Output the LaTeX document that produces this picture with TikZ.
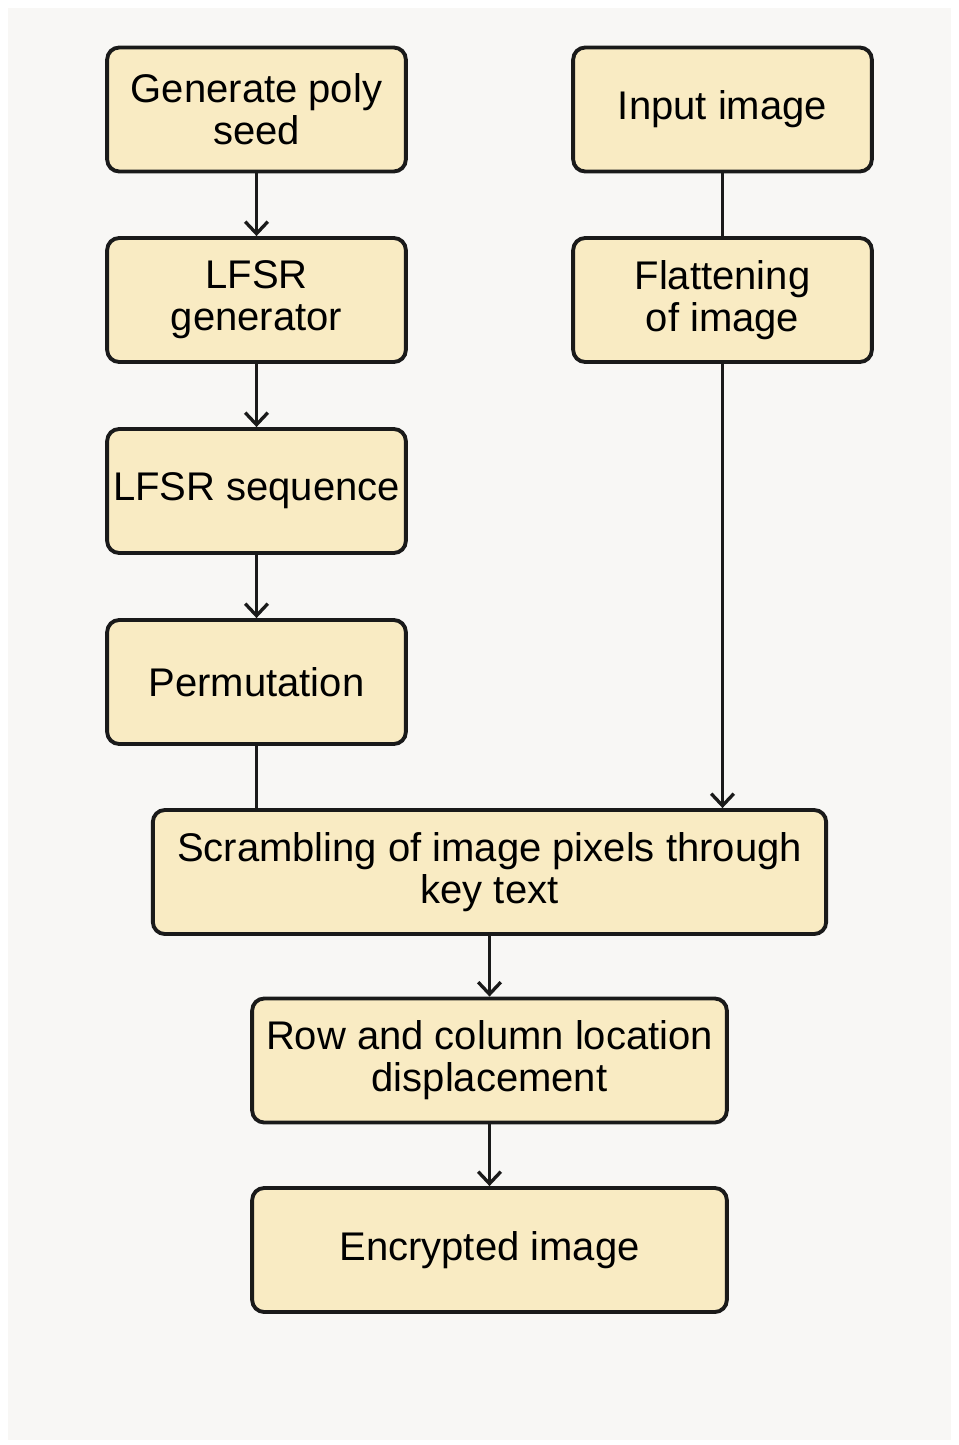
\documentclass[tikz,border=0pt]{standalone}
\usepackage{fontspec}
\setmainfont{Liberation Sans}
\usetikzlibrary{arrows.meta,positioning,calc}

\definecolor{boxfill}{RGB}{249,235,195}
\definecolor{paper}{RGB}{248,247,245}
\definecolor{ink}{RGB}{26,26,26}

\tikzset{
  stepbox/.style={draw=ink, fill=boxfill, line width=2.9pt, rounded corners=9pt,
    minimum width=224pt, minimum height=93pt, align=center, inner sep=0pt,
    font=\fontsize{30}{31.5}\selectfont},
  widebox/.style={stepbox, minimum width=505pt},
  midbox/.style={stepbox, minimum width=356pt},
  flow/.style={draw=ink, line width=2.5pt, -{Straight Barb[length=9pt,width=17pt,line width=2.5pt]}},
  link/.style={draw=ink, line width=2.5pt}
}

\begin{document}
\begin{tikzpicture}[x=0.75pt,y=0.75pt,yscale=-1,xscale=1]
%set diagram to 958 x 1445
\fill[white] (0,0) rectangle (958,1445);
\fill[paper] (8,8) rectangle (951,1440);
\useasboundingbox (0,0) rectangle (958,1445);

%Left column
\node[stepbox] (seed) at (256.5,109.5) {Generate poly\\seed};
\node[stepbox] (lfsrgen) at (256.5,300) {LFSR\\generator};
\node[stepbox] (lfsrseq) at (256.5,491) {LFSR sequence};
\node[stepbox] (perm) at (256.5,682) {Permutation};

%Right column
\node[stepbox] (input) at (722.5,109.5) {Input image};
\node[stepbox] (flat) at (722.5,300) {Flattening\\of image};

%Bottom
\node[widebox] (scramble) at (489.5,872) {Scrambling of image pixels through\\key text};
\node[midbox] (rowcol) at (489.5,1060.5) {Row and column location\\displacement};
\node[midbox] (encrypt) at (489.5,1250) {Encrypted image};

%Connectors
\draw[flow] (seed) -- (lfsrgen);
\draw[flow] (lfsrgen) -- (lfsrseq);
\draw[flow] (lfsrseq) -- (perm);
\draw[link] (perm.south) -- (perm.south |- scramble.north);
\draw[link] (input) -- (flat);
\draw[flow] (flat.south) -- (flat.south |- scramble.north);
\draw[flow] (scramble) -- (rowcol);
\draw[flow] (rowcol) -- (encrypt);

\end{tikzpicture}
\end{document}
